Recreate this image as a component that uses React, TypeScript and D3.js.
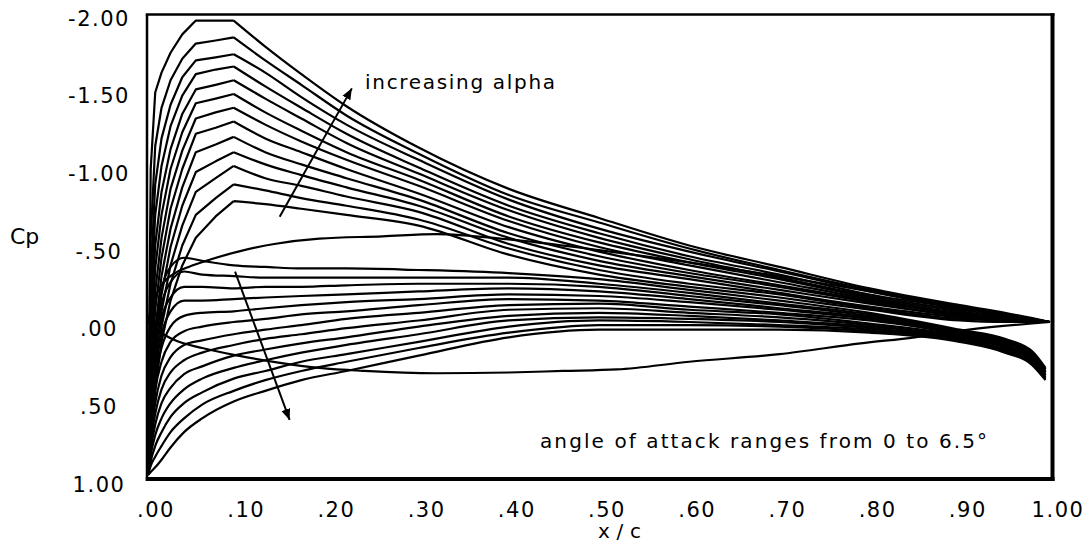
import React from "react";
import * as d3 from "d3";

// ---- axis ticks ----
const X_TICKS = [0, 0.1, 0.2, 0.3, 0.4, 0.5, 0.6, 0.7, 0.8, 0.9, 1.0];
const X_TICK_LABELS = [".00", ".10", ".20", ".30", ".40", ".50", ".60", ".70", ".80", ".90", "1.00"];
const Y_TICKS = [-2, -1.5, -1, -0.5, 0, 0.5, 1];
const Y_TICK_LABELS = ["-2.00", "-1.50", "-1.00", "-.50", ".00", ".50", "1.00"];

// ---- angle of attack values (deg) for the two surface families ----
const ALPHAS = [0.5, 1.0, 1.5, 2.0, 2.5, 3.0, 3.5, 4.0, 4.5, 5.0, 5.5, 6.0, 6.5];

// ---- upper surface (suction side) ----
const UPPER_X = [0, 0.003, 0.008, 0.015, 0.025, 0.038, 0.053, 0.075, 0.095, 0.13, 0.17, 0.22, 0.3, 0.4, 0.5, 0.6, 0.7, 0.8, 0.9, 0.95, 1.0];
const SUCTION_PEAK_X = 0.095;
const upperA05 = [1.0, 0.77, 0.44, 0.13, -0.14, -0.37, -0.55, -0.69, -0.79, -0.77, -0.74, -0.70, -0.63, -0.44, -0.31, -0.23, -0.16, -0.08, -0.01, 0.0, 0.0];
const upperA10 = [1.0, 0.71, 0.35, 0.03, -0.25, -0.50, -0.70, -0.81, -0.90, -0.86, -0.81, -0.76, -0.67, -0.48, -0.34, -0.25, -0.18, -0.09, -0.02, -0.01, 0.0];
const upperA15 = [1.0, 0.65, 0.26, -0.07, -0.37, -0.63, -0.85, -0.94, -1.02, -0.94, -0.89, -0.82, -0.72, -0.51, -0.37, -0.28, -0.19, -0.10, -0.03, -0.01, 0.0];
const upperA20 = [1.0, 0.58, 0.15, -0.18, -0.49, -0.76, -0.98, -1.05, -1.11, -1.03, -0.96, -0.88, -0.76, -0.55, -0.40, -0.30, -0.21, -0.12, -0.04, -0.01, 0.0];
const upperA25 = [1.0, 0.50, 0.05, -0.30, -0.61, -0.88, -1.11, -1.16, -1.21, -1.11, -1.03, -0.94, -0.80, -0.58, -0.43, -0.32, -0.23, -0.13, -0.04, -0.02, 0.0];
const upperA30 = [1.0, 0.40, -0.08, -0.42, -0.74, -1.00, -1.23, -1.27, -1.31, -1.20, -1.11, -1.00, -0.84, -0.62, -0.46, -0.34, -0.24, -0.14, -0.05, -0.02, 0.0];
const upperA35 = [1.0, 0.30, -0.20, -0.55, -0.87, -1.12, -1.33, -1.37, -1.40, -1.29, -1.18, -1.06, -0.89, -0.66, -0.49, -0.37, -0.26, -0.15, -0.06, -0.03, 0.0];
const upperA40 = [1.0, 0.20, -0.35, -0.70, -1.00, -1.24, -1.43, -1.46, -1.49, -1.37, -1.25, -1.11, -0.93, -0.69, -0.52, -0.39, -0.28, -0.16, -0.07, -0.03, 0.0];
const upperA45 = [1.0, 0.05, -0.50, -0.85, -1.13, -1.36, -1.52, -1.55, -1.58, -1.46, -1.33, -1.17, -0.97, -0.73, -0.55, -0.41, -0.29, -0.17, -0.08, -0.04, 0.0];
const upperA50 = [1.0, -0.10, -0.70, -1.02, -1.28, -1.48, -1.62, -1.65, -1.67, -1.54, -1.40, -1.23, -1.01, -0.76, -0.58, -0.43, -0.31, -0.18, -0.09, -0.04, 0.0];
const upperA55 = [1.0, -0.30, -0.90, -1.20, -1.42, -1.60, -1.71, -1.73, -1.75, -1.63, -1.47, -1.29, -1.06, -0.80, -0.61, -0.46, -0.33, -0.20, -0.09, -0.05, 0.0];
const upperA60 = [1.0, -0.55, -1.15, -1.40, -1.58, -1.72, -1.82, -1.84, -1.86, -1.71, -1.55, -1.35, -1.10, -0.83, -0.65, -0.48, -0.34, -0.21, -0.10, -0.05, 0.0];
const upperA65 = [1.0, -1.00, -1.50, -1.63, -1.76, -1.88, -1.97, -1.97, -1.97, -1.80, -1.62, -1.41, -1.14, -0.87, -0.68, -0.50, -0.36, -0.22, -0.11, -0.06, 0.0];
const UPPER_SERIES = [upperA05, upperA10, upperA15, upperA20, upperA25, upperA30, upperA35, upperA40, upperA45, upperA50, upperA55, upperA60, upperA65];

// ---- lower surface (pressure side) ----
const LOWER_X = [0, 0.003, 0.008, 0.015, 0.025, 0.04, 0.06, 0.095, 0.13, 0.17, 0.22, 0.3, 0.4, 0.5, 0.6, 0.7, 0.8, 0.9, 0.95, 0.98, 0.995];
const lowerA05 = [1.0, 0.55, 0.10, -0.20, -0.36, -0.42, -0.40, -0.37, -0.36, -0.35, -0.35, -0.34, -0.32, -0.28, -0.21, -0.14, -0.06, 0.05, 0.11, 0.19, 0.30];
const lowerA10 = [1.0, 0.59, 0.17, -0.11, -0.26, -0.33, -0.31, -0.30, -0.29, -0.29, -0.29, -0.29, -0.29, -0.25, -0.19, -0.12, -0.05, 0.06, 0.12, 0.20, 0.31];
const lowerA15 = [1.0, 0.62, 0.24, -0.02, -0.16, -0.23, -0.23, -0.22, -0.23, -0.23, -0.24, -0.25, -0.25, -0.23, -0.17, -0.11, -0.04, 0.06, 0.13, 0.21, 0.31];
const lowerA20 = [1.0, 0.66, 0.31, 0.08, -0.07, -0.14, -0.14, -0.15, -0.16, -0.17, -0.18, -0.20, -0.22, -0.20, -0.15, -0.09, -0.03, 0.07, 0.13, 0.21, 0.32];
const lowerA25 = [1.0, 0.69, 0.38, 0.17, 0.03, -0.04, -0.06, -0.07, -0.09, -0.11, -0.13, -0.15, -0.18, -0.17, -0.13, -0.08, -0.02, 0.08, 0.14, 0.22, 0.33];
const lowerA30 = [1.0, 0.73, 0.45, 0.26, 0.13, 0.06, 0.03, 0.00, -0.02, -0.05, -0.07, -0.11, -0.15, -0.14, -0.10, -0.06, -0.01, 0.08, 0.15, 0.23, 0.33];
const lowerA35 = [1.0, 0.77, 0.53, 0.35, 0.23, 0.15, 0.12, 0.08, 0.05, 0.02, -0.02, -0.06, -0.11, -0.12, -0.08, -0.05, 0.01, 0.09, 0.16, 0.24, 0.34];
const lowerA40 = [1.0, 0.80, 0.60, 0.44, 0.33, 0.25, 0.20, 0.15, 0.11, 0.08, 0.04, -0.01, -0.08, -0.09, -0.06, -0.03, 0.02, 0.10, 0.16, 0.24, 0.35];
const lowerA45 = [1.0, 0.84, 0.67, 0.53, 0.43, 0.34, 0.29, 0.22, 0.18, 0.14, 0.10, 0.03, -0.04, -0.06, -0.04, -0.01, 0.03, 0.10, 0.17, 0.25, 0.35];
const lowerA50 = [1.0, 0.87, 0.74, 0.63, 0.53, 0.44, 0.37, 0.30, 0.25, 0.20, 0.15, 0.08, -0.01, -0.03, -0.02, 0.00, 0.04, 0.11, 0.18, 0.26, 0.36];
const lowerA55 = [1.0, 0.91, 0.81, 0.72, 0.62, 0.53, 0.46, 0.37, 0.32, 0.26, 0.21, 0.13, 0.03, -0.01, 0.00, 0.02, 0.05, 0.12, 0.19, 0.27, 0.37];
const lowerA60 = [1.0, 0.94, 0.88, 0.81, 0.72, 0.63, 0.54, 0.45, 0.38, 0.32, 0.26, 0.17, 0.07, 0.02, 0.02, 0.03, 0.06, 0.12, 0.19, 0.27, 0.37];
const lowerA65 = [1.0, 0.98, 0.95, 0.90, 0.82, 0.72, 0.63, 0.52, 0.45, 0.38, 0.32, 0.22, 0.10, 0.05, 0.05, 0.05, 0.07, 0.13, 0.20, 0.28, 0.38];
const LOWER_SERIES = [lowerA05, lowerA10, lowerA15, lowerA20, lowerA25, lowerA30, lowerA35, lowerA40, lowerA45, lowerA50, lowerA55, lowerA60, lowerA65];

// ---- smooth baseline distributions ----
const BASE_UPPER_X = [0, 0.005, 0.015, 0.03, 0.045, 0.07, 0.1, 0.14, 0.19, 0.26, 0.32, 0.4, 0.5, 0.6, 0.7, 0.8, 0.9, 1.0];
const BASE_UPPER = [0.0, -0.12, -0.24, -0.32, -0.36, -0.41, -0.46, -0.51, -0.545, -0.56, -0.575, -0.54, -0.47, -0.39, -0.30, -0.20, -0.10, 0.0];
const BASE_LOWER_X = [0, 0.01, 0.02, 0.03, 0.06, 0.1, 0.15, 0.19, 0.24, 0.32, 0.4, 0.46, 0.52, 0.6, 0.7, 0.79, 0.85, 0.91, 1.0];
const BASE_LOWER = [0.0, 0.05, 0.09, 0.12, 0.17, 0.22, 0.27, 0.30, 0.32, 0.335, 0.33, 0.32, 0.31, 0.26, 0.21, 0.14, 0.10, 0.05, 0.0];

// ---- annotations (data units: x/c, Cp) ----
const ARROW_UP = [[0.146, -0.688], [0.226, -1.527]];
const ARROW_DOWN = [[0.0965, -0.329], [0.157, 0.64]];
const NOTE_ALPHA = { text: "increasing alpha", x: 0.2406, cp: -1.52 };
const NOTE_RANGE = { text: "angle of attack ranges from 0 to 6.5°", x: 0.4346, cp: 0.823 };

const W = 1089;
const H = 545;

export default function App() {
  const xScale = d3.scaleLinear().domain([0, 1]).range([148, 1050]);
  const yScale = d3.scaleLinear().domain([-2, 1]).range([16, 475]);
  const yLabelScale = d3.scaleLinear().domain([-2, 1]).range([18, 484]);

  const linearLine = d3
    .line<[number, number]>()
    .x((d) => xScale(d[0]))
    .y((d) => yScale(d[1]))
    .curve(d3.curveLinear);
  const smoothLine = d3
    .line<[number, number]>()
    .x((d) => xScale(d[0]))
    .y((d) => yScale(d[1]))
    .curve(d3.curveMonotoneX);

  const toPts = (xs: number[], ys: number[]) => xs.map((x, k) => [x, ys[k]] as [number, number]);
  // leading-edge part drawn as a polyline (sharp suction-peak corner), the rest smooth
  const upperPath = (s: number[]) => {
    const pts = toPts(UPPER_X, s);
    const head = pts.filter((p) => p[0] <= SUCTION_PEAK_X);
    const tail = pts.filter((p) => p[0] >= SUCTION_PEAK_X);
    return (linearLine(head) || "") + (smoothLine(tail) || "");
  };

  const font = "'DejaVu Sans', Verdana, sans-serif";
  const left = xScale(0) - 1;
  const right = xScale(1) + 2.5;
  const top = yScale(-2) - 1.5;
  const bottom = yScale(1) + 4;

  return (
    <svg
      width={W}
      height={H}
      viewBox={`0 0 ${W} ${H}`}
      style={{ position: "absolute", left: 0, top: 0, background: "#fff", display: "block" }}
    >
      <defs>
        <marker id="ah" markerUnits="userSpaceOnUse" markerWidth="12" markerHeight="12" refX="11" refY="6" orient="auto">
          <path d="M0,1.5 L11,6 L0,10.5 Z" fill="#000" />
        </marker>
      </defs>
      <rect x={0} y={0} width={W} height={H} fill="#fff" />

      {/* curves */}
      <g fill="none" stroke="#000" strokeWidth={2.2} strokeLinejoin="round">
        {UPPER_SERIES.map((s, k) => (
          <path key={"u" + ALPHAS[k]} d={upperPath(s)} />
        ))}
        {LOWER_SERIES.map((s, k) => (
          <path key={"l" + ALPHAS[k]} d={smoothLine(toPts(LOWER_X, s)) || ""} />
        ))}
        <path d={smoothLine(toPts(BASE_UPPER_X, BASE_UPPER)) || ""} />
        <path d={smoothLine(toPts(BASE_LOWER_X, BASE_LOWER)) || ""} />
      </g>

      {/* arrows */}
      <g stroke="#000" strokeWidth={2} fill="none">
        <line
          x1={xScale(ARROW_UP[0][0])}
          y1={yScale(ARROW_UP[0][1])}
          x2={xScale(ARROW_UP[1][0])}
          y2={yScale(ARROW_UP[1][1])}
          markerEnd="url(#ah)"
        />
        <line
          x1={xScale(ARROW_DOWN[0][0])}
          y1={yScale(ARROW_DOWN[0][1])}
          x2={xScale(ARROW_DOWN[1][0])}
          y2={yScale(ARROW_DOWN[1][1])}
          markerEnd="url(#ah)"
        />
      </g>

      {/* frame */}
      <g stroke="#000" fill="none">
        <line x1={left - 1.25} y1={top} x2={right + 2} y2={top} strokeWidth={2.5} />
        <line x1={left} y1={top} x2={left} y2={bottom + 2} strokeWidth={2.5} />
        <line x1={right} y1={top - 1.25} x2={right} y2={bottom + 2} strokeWidth={4} />
        <line x1={left - 1.25} y1={bottom} x2={right + 2} y2={bottom} strokeWidth={4} />
      </g>

      {/* annotations */}
      <text
        x={xScale(NOTE_ALPHA.x)}
        y={yScale(NOTE_ALPHA.cp)}
        fontFamily={font}
        fontSize={20}
        textLength={190}
        lengthAdjust="spacing"
        fill="#000"
      >
        {NOTE_ALPHA.text}
      </text>
      <text
        x={xScale(NOTE_RANGE.x)}
        y={yScale(NOTE_RANGE.cp)}
        fontFamily={font}
        fontSize={20}
        textLength={447}
        lengthAdjust="spacing"
        fill="#000"
      >
        {NOTE_RANGE.text}
      </text>

      {/* y axis labels */}
      <g fontFamily={font} fontSize={21} fill="#000" textAnchor="middle" letterSpacing={1.5}>
        {Y_TICKS.map((v, k) => (
          <text key={"y" + v} x={99} y={yLabelScale(v)} dy="0.36em">
            {Y_TICK_LABELS[k]}
          </text>
        ))}
      </g>
      {/* x axis labels */}
      <g fontFamily={font} fontSize={21} fill="#000" textAnchor="middle" letterSpacing={1.5}>
        {X_TICKS.map((v, k) => (
          <text key={"x" + v} x={xScale(v) + 8} y={517}>
            {X_TICK_LABELS[k]}
          </text>
        ))}
      </g>

      {/* axis titles */}
      <text x={10} y={244} fontFamily={font} fontSize={22} fill="#000">
        Cp
      </text>
      <text x={598} y={538} fontFamily={font} fontSize={20} fill="#000" textLength={43} lengthAdjust="spacing">
        x/c
      </text>
    </svg>
  );
}
